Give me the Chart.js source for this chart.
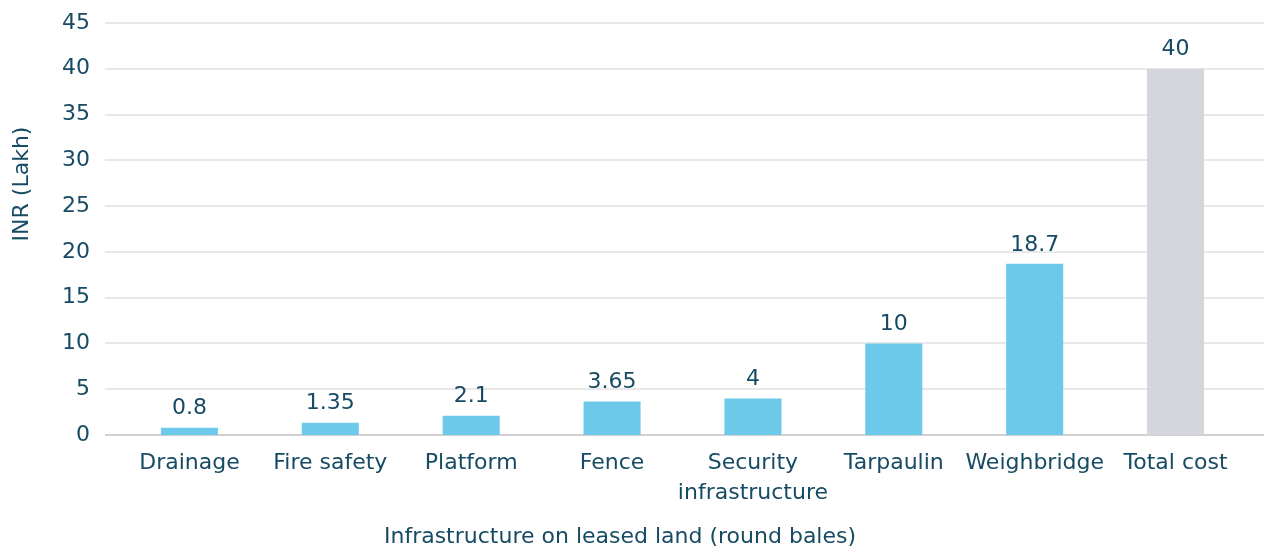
<!DOCTYPE html>
<html>
<head>
<meta charset="utf-8">
<script src="https://cdn.jsdelivr.net/npm/chart.js@4"></script>
<style>
  html, body { margin: 0; padding: 0; background: #fff; }
  #wrap { width: 1266px; height: 552px; }
</style>
</head>
<body>
<div id="wrap"><canvas id="myChart" width="1266" height="552"></canvas></div>
<script>
let categories = ['Drainage', 'Fire safety', 'Platform', 'Fence', ['Security', 'infrastructure'], 'Tarpaulin', 'Weighbridge', 'Total cost']
let costs = [0.8, 1.35, 2.1, 3.65, 4, 10, 18.7, 40]
let valueLabels = ['0.8', '1.35', '2.1', '3.65', '4', '10', '18.7', '40']
let barColors = ['#6cc9ea', '#6cc9ea', '#6cc9ea', '#6cc9ea', '#6cc9ea', '#6cc9ea', '#6cc9ea', '#d5d6db']

let textColor = '#174a63'
let fontFamily = '"DejaVu Sans", sans-serif'

// grid lines span wider than the category band, so draw them here
let gridPlugin = {
    id: 'grid',
    beforeDatasetsDraw(chart) {
        let c = chart.ctx
        let y = chart.scales.y
        c.save()
        y.ticks.forEach(t => {
            let py = Math.round(y.getPixelForValue(t.value))
            c.strokeStyle = t.value === 0 ? '#d0d0d0' : '#e0e0e0'
            c.lineWidth = t.value === 0 ? 2 : 1.3
            c.beginPath()
            c.moveTo(105, py)
            c.lineTo(1264, py)
            c.stroke()
        })
        c.restore()
    }
}

let labelPlugin = {
    id: 'labels',
    afterDatasetsDraw(chart) {
        let c = chart.ctx
        c.save()
        c.font = '22px ' + fontFamily
        c.fillStyle = textColor
        c.textAlign = 'center'
        c.textBaseline = 'bottom'
        chart.getDatasetMeta(0).data.forEach((bar, i) => {
            c.fillText(valueLabels[i], bar.x, bar.y - 8)
        })
        // axis titles
        c.textBaseline = 'middle'
        c.fillText('Infrastructure on leased land (round bales)', 620, 537)
        c.translate(22, 184)
        c.rotate(-Math.PI / 2)
        c.fillText('INR (Lakh)', 0, 0)
        c.restore()
    }
}

let ctx = document.querySelector('#myChart')

let graphData = {
    type: 'bar',
    data: {
        labels: categories,
        datasets: [{
            data: costs,
            backgroundColor: barColors,
            barPercentage: 0.405,
            categoryPercentage: 1
        }]
    },
    options: {
        responsive: false,
        animation: false,
        layout: { padding: { top: 23, right: 20, left: 0, bottom: 0 } },
        plugins: { legend: { display: false }, tooltip: { enabled: false } },
        scales: {
            x: {
                grid: { display: false, drawTicks: false },
                border: { display: false },
                ticks: {
                    color: textColor,
                    font: { family: fontFamily, size: 22, lineHeight: 1.36 },
                    padding: 13,
                    maxRotation: 0,
                    autoSkip: false
                },
                afterFit(scale) {
                    scale.height = 117
                    scale.paddingLeft = 0
                    scale.paddingRight = 0
                }
            },
            y: {
                min: 0,
                max: 45,
                grid: { display: false, drawTicks: false },
                border: { display: false },
                ticks: {
                    stepSize: 5,
                    color: textColor,
                    font: { family: fontFamily, size: 22 },
                    padding: 29
                },
                afterFit(scale) {
                    scale.width = 119
                    scale.paddingTop = 0
                    scale.paddingBottom = 0
                }
            }
        }
    },
    plugins: [gridPlugin, labelPlugin]
}

let myChart = new Chart(ctx, graphData)
</script>
</body>
</html>
